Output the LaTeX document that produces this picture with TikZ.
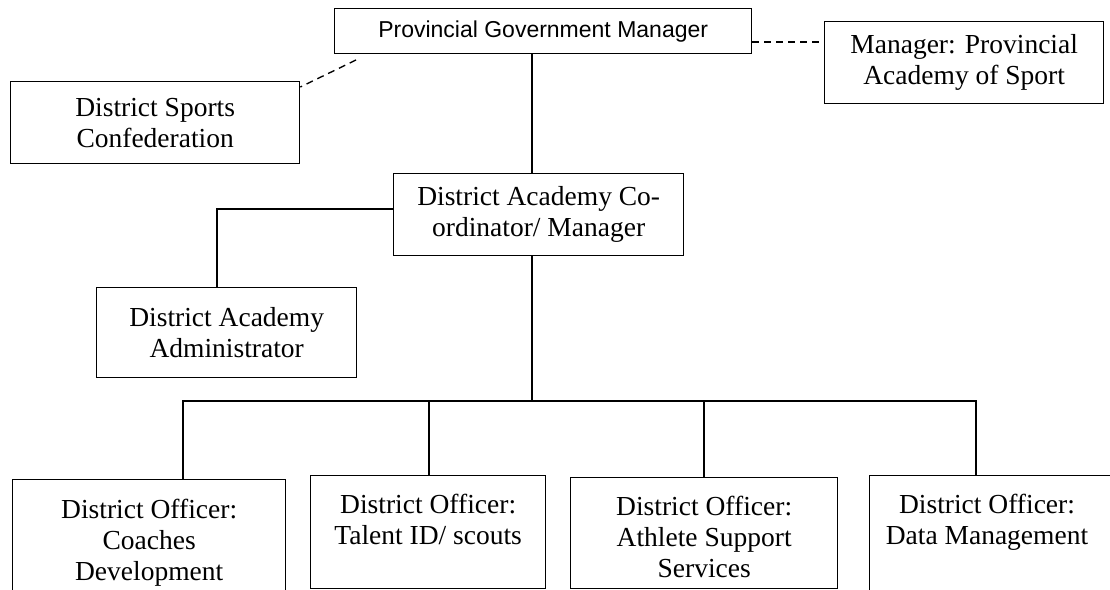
\documentclass[tikz,border=0pt]{standalone}
\usepackage{fontspec}
\setmainfont{Liberation Serif}
\newfontfamily\arialfont{Liberation Sans}
\begin{document}
\begin{tikzpicture}[x=1pt,y=-1pt,
  box/.style={draw, line width=1.35pt, inner sep=0pt, anchor=north west,
    font=\fontsize{27.5}{31}\selectfont, align=center},
  lbl/.style={inner sep=0pt, anchor=north, font=\fontsize{27.5}{31}\selectfont, align=center},
  link/.style={draw, line width=1.35pt},
  dashlink/.style={draw, line width=1.35pt, dash pattern=on 7pt off 5pt}]
\useasboundingbox (0,0) rectangle (1110,589);
\fill[white] (0,0) rectangle (1110,589);
\clip (0,0) rectangle (1110,589);

% boxes
\node[box, minimum width=417pt, minimum height=45pt,
  font=\arialfont\fontsize{23}{27}\selectfont] (pgm) at (334,8) {Provincial Government Manager};
\node[box, minimum width=279pt, minimum height=82pt] (mpas) at (824,21) {Manager: Provincial\\Academy of Sport};
\node[box, minimum width=289pt, minimum height=82pt] (dsc) at (10,81) {District Sports\\Confederation};
\node[box, minimum width=290pt, minimum height=82pt] (dacm) at (393,173) {District Academy Co-\\ordinator/ Manager};
\node[box, minimum width=260pt, minimum height=90pt] (daa) at (96,287) {District Academy\\Administrator};

\node[box, minimum width=273pt, minimum height=140pt] (coaches) at (12,479) {};
\node[lbl] (coachest) at ([yshift=-20pt]coaches.north) {District Officer:\\Coaches\\Development};
\node[box, minimum width=235pt, minimum height=113pt] (talent) at (310,475) {};
\node[lbl] (talentt) at ([yshift=-19pt]talent.north) {District Officer:\\Talent ID/ scouts};
\node[box, minimum width=267pt, minimum height=111pt] (athlete) at (570,477) {};
\node[lbl] (athletet) at ([yshift=-19pt]athlete.north) {District Officer:\\Athlete Support\\Services};
\node[box, minimum width=260pt, minimum height=140pt] (data) at (869,475) {};
\node[lbl] (datat) at ([yshift=-19pt]data.north -| 987,0) {District Officer:\\Data Management};

% connectors
\coordinate (sp) at (532,0);
\coordinate (bus) at (0,401);
\draw[link] (sp |- pgm.south) -- (sp |- dacm.north);
\draw[link] (sp |- dacm.south) -- (sp |- bus);
\coordinate (adm) at (217,209);
\draw[link] (adm -| dacm.west) -- (adm) -- (adm |- daa.north);
\coordinate (busL) at (183,401);
\coordinate (busR) at (976,401);
\coordinate (d2) at (429,401);
\coordinate (d3) at (704,401);
\draw[link] (busL |- coaches.north) -- (busL) -- (busR) -- (busR |- data.north);
\draw[link] (d2) -- (d2 |- talent.north);
\draw[link] (d3) -- (d3 |- athlete.north);

\coordinate (mp) at (0,42);
\draw[dashlink] (mp -| pgm.east) -- (mp -| mpas.west);
\coordinate (ds1) at (356,60);
\coordinate (ds2) at (0,87);
\draw[dashlink] (ds1) -- (ds2 -| dsc.east);
\end{tikzpicture}
\end{document}
